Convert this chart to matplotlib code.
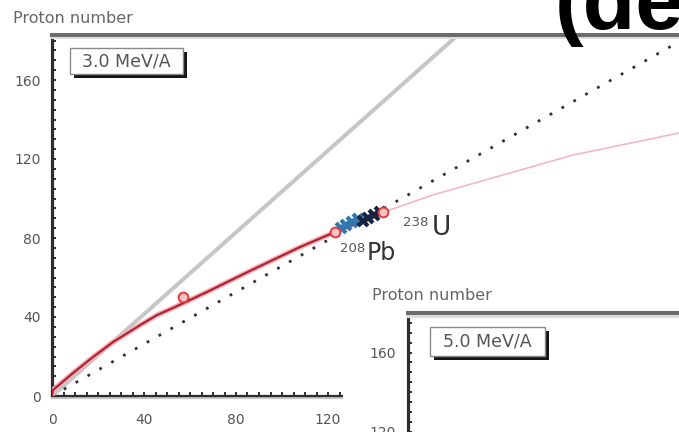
import matplotlib
matplotlib.use('Agg')
import matplotlib.pyplot as plt
import matplotlib.patheffects as pe
from matplotlib.patches import Rectangle
from matplotlib.ticker import FixedLocator

# ---------------- data (neutron number N, proton number Z) ----------------
stab_n = [0, 0.4, 9.1, 17.8, 26.5, 38.3, 45.7, 52.6, 60, 67.4, 86, 107.8, 123, 144]
stab_z = [0, 3.0, 11.6, 19.7, 27.3, 35.9, 41, 44.6, 48.6, 52.7, 63.3, 75.4, 83, 93]
ext_n = [144, 165.6, 226.5, 272, 300]
ext_z = [93, 101.8, 122, 133, 139.7]
nz_n = [0, 185]
nz_z = [0, 191.6]
aq_n = [0, 300]
aq_z = [0, 197.4]
mark_n = [57, 123, 144]
mark_z = [50, 83, 93]
blue_n = [125.5, 128, 130.5, 133]
blue_z = [85, 86.6, 88.2, 89.8]
navy_n = [135, 137.5, 140, 142.5]
navy_z = [88.6, 90.0, 91.5, 93]
xticks = [0, 40, 80, 120]
yticks = [0, 40, 80, 120, 160]
inset_yticks = [0, 40, 80, 120, 160]

W, H = 679, 432
def fx(px):
    return px / W
def fy(py):
    return (H - py) / H

fig = plt.figure(figsize=(W / 100, H / 100), dpi=100)
fig.patch.set_facecolor('white')

XS = 2.3      # px per unit N
YS = 1.975    # px per unit Z

# ---------------- main axes ----------------
ax = fig.add_axes([fx(52), fy(396), 300 * XS / W, 183 * YS / H])
ax.set_xlim(0, 300)
ax.set_ylim(0, 183)

ax.plot(nz_n, nz_z, color='#c6c6c6', lw=2.9, solid_capstyle='butt', zorder=2)
ax.plot(aq_n, aq_z, color='#333333', lw=2.0, linestyle=(0, (1, 3.9)),
        dash_capstyle='butt', zorder=3)
ax.plot(stab_n, stab_z, color='#f4b4bc', lw=3.8, zorder=4, solid_capstyle='round')
ax.plot(stab_n, stab_z, color='#b3202f', lw=1.6, zorder=5, solid_capstyle='round')
ax.plot(ext_n, ext_z, color='#f2b8c0', lw=1.2, zorder=4)
ax.plot(blue_n, blue_z, linestyle='none', marker='x', ms=7.5, mew=3.0,
        color='#2f78b0', zorder=6)
ax.plot(navy_n, navy_z, linestyle='none', marker='x', ms=7.5, mew=3.0,
        color='#17243f', zorder=6)
ax.plot(mark_n, mark_z, linestyle='none', marker='o', ms=7, mew=1.4,
        mfc='#f6c4c4', mec='#e03a3a', zorder=7)

ax.text(125.2, 72.9, '208', fontsize=9.5, color='#555555', va='baseline', ha='left')
ax.text(136.9, 69.1, 'Pb', fontsize=17, color='#333333', va='baseline', ha='left')
ax.text(152.6, 86.1, '238', fontsize=9.5, color='#555555', va='baseline', ha='left')
ax.text(165.2, 81.5, 'U', fontsize=19, color='#333333', va='baseline', ha='left')

ax.spines['right'].set_visible(False)
ax.spines['left'].set_color('#2e2e2e')
ax.spines['left'].set_linewidth(2.3)
ax.spines['top'].set_color('#6c6c6c')
ax.spines['top'].set_linewidth(2.9)
ax.spines['top'].set_path_effects([pe.SimpleLineShadow(offset=(0, -2), shadow_color='#dddddd', alpha=1), pe.Normal()])
ax.spines['bottom'].set_color('#2e2e2e')
ax.spines['bottom'].set_linewidth(1.6)
ax.spines['bottom'].set_bounds(0, 126)
ax.spines['bottom'].set_path_effects([pe.SimpleLineShadow(offset=(0, -1.5), shadow_color='#c8c8c8', alpha=1), pe.Normal()])

ax.set_xticks(xticks)
ax.set_yticks(yticks)
ax.xaxis.set_minor_locator(FixedLocator(list(range(0, 126, 5))))
ax.yaxis.set_minor_locator(FixedLocator(list(range(0, 183, 5))))
ax.tick_params(which='both', direction='in', length=3.2, width=1.4, color='#2e2e2e',
               top=False, right=False)
ax.tick_params(axis='x', which='major', pad=12, labelsize=10, labelcolor='#555555')
ax.tick_params(axis='y', which='major', pad=8, labelsize=10, labelcolor='#555555')

fig.text(fx(13), fy(18.5), 'Proton number', fontsize=11.5, color='#666666',
         ha='left', va='center')

def label_box(x0, y0, x1, y1, text):
    fig.add_artist(Rectangle((fx(x0 + 4), fy(y1 + 4)), fx(x1 - x0), (y1 - y0) / H,
                             transform=fig.transFigure, facecolor='#151515',
                             edgecolor='none', zorder=20))
    fig.add_artist(Rectangle((fx(x0), fy(y1)), fx(x1 - x0), (y1 - y0) / H,
                             transform=fig.transFigure, facecolor='white',
                             edgecolor='#8a8a8a', lw=1.0, zorder=21))
    fig.text(fx((x0 + x1) / 2), fy((y0 + y1) / 2), text, fontsize=12.5,
             color='#555555', ha='center', va='center', zorder=22)

label_box(70, 48, 183, 74, '3.0 MeV/A')

# ---------------- inset (second panel, partly outside the picture) ----------------
ax2 = fig.add_axes([fx(408), fy(313 + 180 * YS), 300 * XS / W, 180 * YS / H])
ax2.set_zorder(5)
ax2.set_xlim(0, 300)
ax2.set_ylim(0, 180)
ax2.set_facecolor('white')
for s in ['right', 'bottom']:
    ax2.spines[s].set_visible(False)
ax2.spines['left'].set_color('#2e2e2e')
ax2.spines['left'].set_linewidth(2.3)
ax2.spines['top'].set_color('#6c6c6c')
ax2.spines['top'].set_linewidth(2.9)
ax2.spines['top'].set_path_effects([pe.SimpleLineShadow(offset=(0, -2), shadow_color='#dddddd', alpha=1), pe.Normal()])
ax2.set_xticks([])
ax2.set_yticks(inset_yticks)
ax2.yaxis.set_minor_locator(FixedLocator(list(range(0, 181, 5))))
ax2.tick_params(which='both', direction='in', length=3.2, width=1.4, color='#2e2e2e',
                top=False, right=False, bottom=False)
ax2.tick_params(axis='y', which='major', pad=9, labelsize=10, labelcolor='#555555')

fig.text(fx(372), fy(296), 'Proton number', fontsize=11.5, color='#666666',
         ha='left', va='center', zorder=10)
label_box(430, 327, 545, 356, '5.0 MeV/A')

# ---------------- cut-off title fragment ----------------
fig.text(fx(555), fy(29), '(de', fontsize=62, fontweight='bold', color='black',
         family='Liberation Sans', ha='left', va='baseline', zorder=30)

fig.savefig('out.png', dpi=100, facecolor='white')
